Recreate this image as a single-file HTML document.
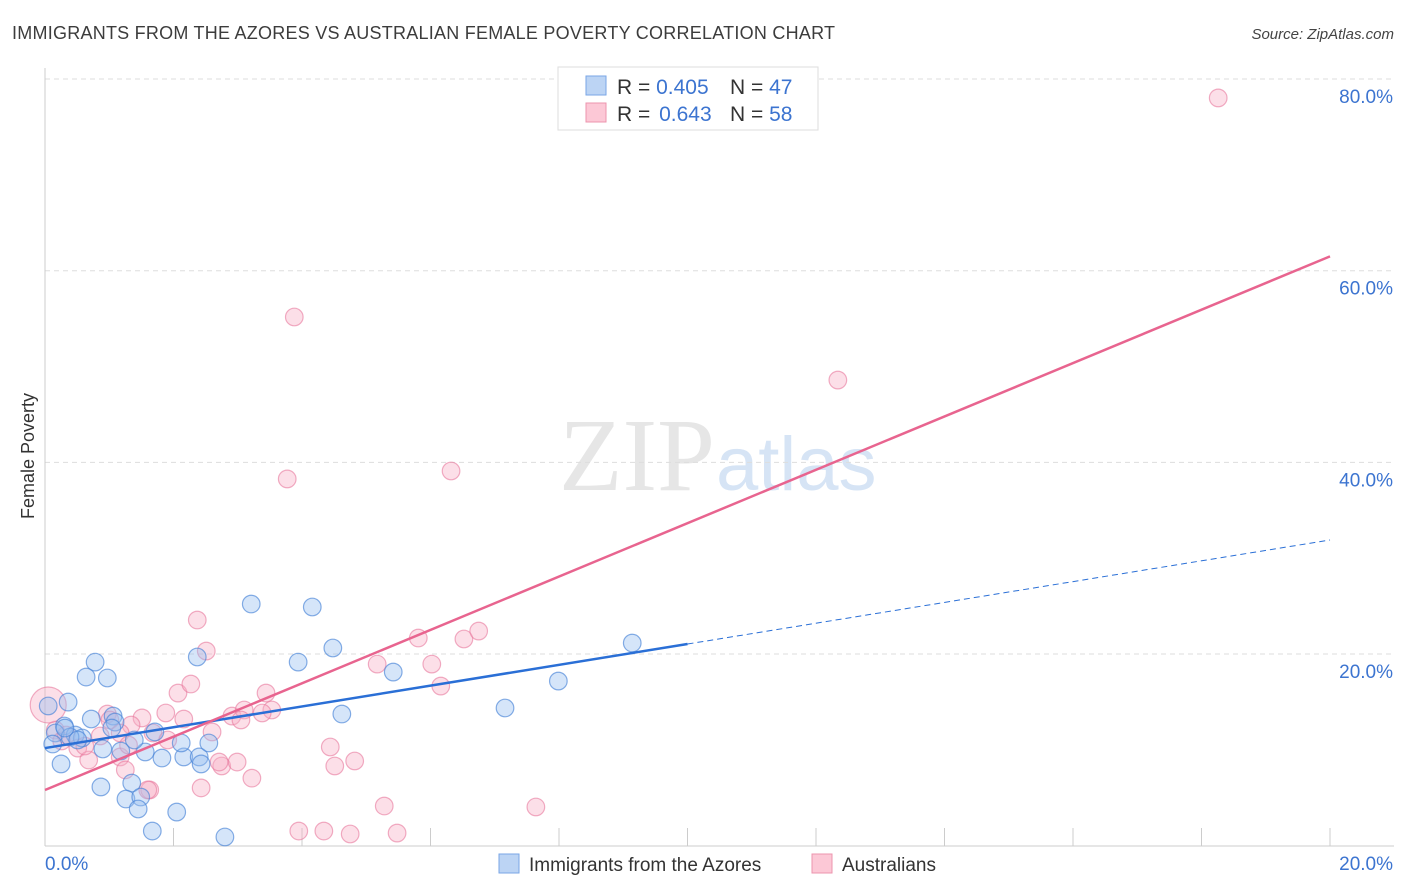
<!DOCTYPE html>
<html><head><meta charset="utf-8"><style>
body{margin:0;background:#fff;width:1406px;height:892px;overflow:hidden;font-family:"Liberation Sans",sans-serif}
svg{display:block}
</style></head><body>
<svg id="chart" width="1406" height="892" xmlns="http://www.w3.org/2000/svg">
<text x="12" y="39" font-size="18" fill="#3c3c3c" textLength="823" font-family="Liberation Sans, sans-serif">IMMIGRANTS FROM THE AZORES VS AUSTRALIAN FEMALE POVERTY CORRELATION CHART</text>
<text x="1394" y="39" font-size="15" fill="#444" text-anchor="end" font-style="italic">Source: ZipAtlas.com</text>
<text x="715" y="490" font-size="104" fill="#e6e6e6" text-anchor="end" font-family="Liberation Serif, serif">ZIP</text>
<text x="716" y="490" font-size="76" fill="#d6e4f5">atlas</text>
<g id="grid"></g>
<g id="axes"></g>
<g id="pts"></g>
<g id="lines"></g>
<text transform="translate(34,456) rotate(-90)" font-size="18" fill="#333" text-anchor="middle">Female Poverty</text>
<g>
<rect x="558" y="67" width="260" height="63" fill="#fff" stroke="#ddd"/>
<rect x="586" y="76" width="20" height="19" fill="#bcd4f4" stroke="#7aa6e6"/>
<rect x="586" y="103" width="20" height="19" fill="#fcc8d6" stroke="#ec94ae"/>
<text x="617" y="94" font-size="21" fill="#333">R = <tspan fill="#3c74d0">0.405</tspan></text>
<text x="730" y="94" font-size="21" fill="#333">N = <tspan fill="#3c74d0">47</tspan></text>
<text x="617" y="121" font-size="21" fill="#333">R = <tspan fill="#3c74d0" dx="3">0.643</tspan></text>
<text x="730" y="121" font-size="21" fill="#333">N = <tspan fill="#3c74d0">58</tspan></text>
</g>
<g>
<rect x="499" y="854" width="20" height="19" fill="#bcd4f4" stroke="#7aa6e6"/>
<text x="529" y="871" font-size="19" fill="#333">Immigrants from the Azores</text>
<rect x="812" y="854" width="20" height="19" fill="#fcc8d6" stroke="#ec94ae"/>
<text x="842" y="871" font-size="19" fill="#333">Australians</text>
</g>
</svg>
<script>
const yTicks=[20,40,60,80];
const xTickLabels=["0.0%","20.0%"];
const blueX=[0.05,0.36,0.78,0.64,0.97,0.72,1.06,1.09,0.30,0.16,0.47,0.58,0.12,0.90,1.18,1.56,1.82,2.16,1.71,2.12,2.40,2.55,2.43,0.25,0.87,1.35,1.26,1.49,1.45,1.67,2.05,2.80,2.37,3.21,3.94,4.16,4.48,4.62,5.42,7.16,7.99,9.14,1.04,0.39,0.51,1.39,0.31];
const blueY=[14.58,14.99,19.16,17.60,17.50,13.22,13.53,12.90,12.49,11.76,11.55,11.24,10.61,10.09,9.88,9.78,9.15,9.26,11.87,10.72,9.26,10.72,8.53,8.53,6.13,6.54,4.87,5.08,3.83,1.53,3.51,0.91,19.69,25.22,19.16,24.91,20.63,13.74,18.12,14.37,17.18,21.15,12.28,11.34,11.03,11.03,12.28];
const pinkX=[18.26,3.88,12.34,6.32,3.77,2.37,2.51,5.81,6.52,6.75,5.17,6.02,2.07,2.27,3.44,6.16,0.97,1.51,2.16,1.88,2.91,3.10,3.53,3.38,3.05,2.60,1.34,0.16,0.51,0.68,1.17,1.25,1.68,1.91,0.86,4.44,4.51,4.82,2.75,2.99,2.71,3.22,1.63,2.43,5.28,3.95,4.34,4.75,5.48,7.64,0.05,0.26,0.62,0.33,1.01,1.17,1.60,1.30];
const pinkY=[78.03,55.17,48.59,39.10,38.27,23.55,20.31,21.67,21.57,22.40,18.95,18.95,15.93,16.87,15.93,16.66,13.74,13.33,13.22,13.85,13.53,14.16,14.16,13.85,13.12,11.87,12.59,12.07,10.19,8.94,9.26,7.91,11.76,11.03,11.45,10.30,8.32,8.84,8.32,8.73,8.73,7.05,5.82,6.03,4.14,1.53,1.53,1.22,1.32,4.04,14.68,10.93,10.40,11.55,13.12,11.76,5.82,10.50];
const blueFit=[10.19,31.9];
const pinkFit=[5.81,61.5];
const blueSolidEnd=10.0;
const NS="http://www.w3.org/2000/svg";
const X=v=>45+v/20*1285;
const Y=v=>845.7-v*9.583;
function mk(tag,attrs,parent){const e=document.createElementNS(NS,tag);for(const k in attrs)e.setAttribute(k,attrs[k]);parent.appendChild(e);return e;}
const grid=document.getElementById('grid'),axes=document.getElementById('axes'),pts=document.getElementById('pts'),lines=document.getElementById('lines');
yTicks.forEach(t=>{
  const l=mk('line',{x1:45,x2:1394,y1:Y(t),y2:Y(t),stroke:'#ddd','stroke-dasharray':'5,4'},grid);
  
  
  const tx=mk('text',{x:1393,y:Y(t)+24,'font-size':19,fill:'#3c74d0','text-anchor':'end'},grid);
  tx.textContent=t.toFixed(1)+'%';
  
  
});
const ya=mk('line',{x1:45,x2:45,y1:68,y2:846,stroke:'#ccc'},axes);


const xa=mk('line',{x1:45,x2:1394,y1:846,y2:846,stroke:'#ccc'},axes);


for(let i=0;i<=10;i++){
  const tk=mk('line',{x1:X(i*2),x2:X(i*2),y1:828,y2:846,stroke:'#ccc'},axes);
  
  
}
xTickLabels.forEach((s,i)=>{
  const tx=mk('text',{x:i?1393:45,y:870,'font-size':19,fill:'#3c74d0','text-anchor':i?'end':'start'},axes);
  tx.textContent=s;
  
  
});
pinkX.forEach((v,i)=>{
  const c=mk('circle',{cx:X(v),cy:Y(pinkY[i]),r:i===50?18:8.8,fill:'rgba(248,176,198,0.4)',stroke:'rgba(232,120,156,0.6)','stroke-width':1.2},pts);
  
  
});
blueX.forEach((v,i)=>{
  const c=mk('circle',{cx:X(v),cy:Y(blueY[i]),r:8.8,fill:'rgba(150,190,240,0.4)',stroke:'rgba(70,130,215,0.65)','stroke-width':1.2},pts);
  
  
});
const bAt=x=>blueFit[0]+(blueFit[1]-blueFit[0])*x/20;
const bl=mk('line',{x1:X(0),y1:Y(bAt(0)),x2:X(blueSolidEnd),y2:Y(bAt(blueSolidEnd)),stroke:'#2a6fd6','stroke-width':2.5},lines);


const bd=mk('line',{x1:X(blueSolidEnd),y1:Y(bAt(blueSolidEnd)),x2:X(20),y2:Y(bAt(20)),stroke:'#2a6fd6','stroke-width':1,'stroke-dasharray':'6,4'},lines);


const pl=mk('line',{x1:X(0),y1:Y(pinkFit[0]),x2:X(20),y2:Y(pinkFit[1]),stroke:'#e8648f','stroke-width':2.5},lines);


</script>
</body></html>
